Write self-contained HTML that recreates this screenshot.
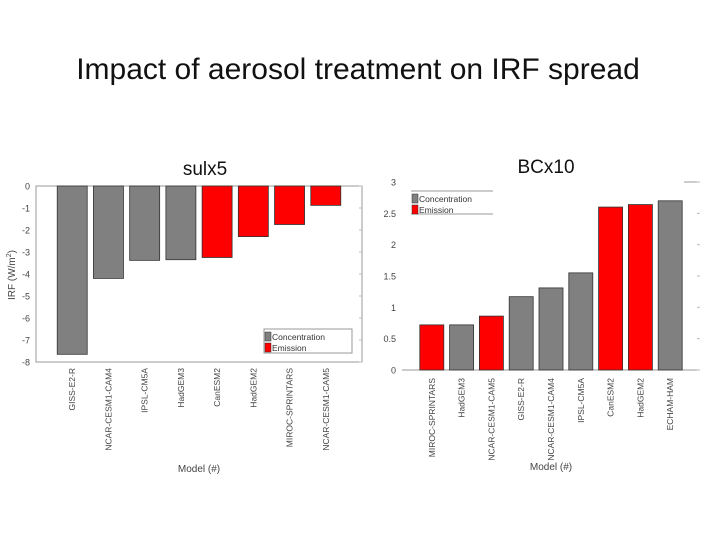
<!DOCTYPE html>
<html><head><meta charset="utf-8">
<style>
body{margin:0;background:#fff;}
svg{display:block;font-family:"Liberation Sans","DejaVu Sans",sans-serif;}
</style></head>
<body>
<svg id="svg" width="720" height="540">
<text x="358" y="79" font-size="30" text-anchor="middle" fill="#111">Impact of aerosol treatment on IRF spread</text>
<text x="205" y="175" font-size="19" text-anchor="middle" fill="#111">sulx5</text>
<text x="546" y="173" font-size="19" text-anchor="middle" fill="#111">BCx10</text>
<g id="left"></g>
<g id="right"></g>
</svg>
<script>
const leftCats=["GISS-E2-R","NCAR-CESM1-CAM4","IPSL-CM5A","HadGEM3","CanESM2","HadGEM2","MIROC-SPRINTARS","NCAR-CESM1-CAM5"];
const leftVals=[-7.65,-4.2,-3.38,-3.35,-3.25,-2.3,-1.75,-0.88];
const leftTypes=["c","c","c","c","e","e","e","e"];
const leftTicks=[0,-1,-2,-3,-4,-5,-6,-7,-8];
const rightCats=["MIROC-SPRINTARS","HadGEM3","NCAR-CESM1-CAM5","GISS-E2-R","NCAR-CESM1-CAM4","IPSL-CM5A","CanESM2","HadGEM2","ECHAM-HAM"];
const rightVals=[0.72,0.72,0.86,1.17,1.31,1.55,2.6,2.64,2.7];
const rightTypes=["e","c","e","c","c","c","e","e","c"];
const rightTicks=[0,0.5,1,1.5,2,2.5,3];
const NS="http://www.w3.org/2000/svg";
function mk(p,t,a){const e=document.createElementNS(NS,t);for(const k in a)e.setAttribute(k,a[k]);p.appendChild(e);return e;}
const COL={c:"#808080",e:"#ff0000"};

function draw(g,o){
  const y=v=>o.y0+(v-o.vmin)/(o.vmax-o.vmin)*(o.y1-o.y0);
  const step=(o.x1-o.x0)/(o.cats.length+1);
  const x=i=>o.x0+step*(i+1);
  const yb=Math.max(o.y0,o.y1), yt=Math.min(o.y0,o.y1);
  if(o.box){
    const r=mk(g,"rect",{x:o.x0,y:yt,width:o.x1-o.x0,height:yb-yt,fill:"none",stroke:"#999","stroke-width":1});
    
  }else{
    const l=mk(g,"line",{x1:o.x0,x2:o.x1,y1:yb,y2:yb,stroke:"#999"});
    
    const t=mk(g,"line",{x1:o.x1-16,x2:o.x1,y1:yt,y2:yt,stroke:"#999"});
    
  }
  o.ticks.forEach(v=>{
    const tl=mk(g,"text",{x:o.x0-6,y:y(v)+3.5,"font-size":9,"text-anchor":"end",fill:"#444"});
    tl.textContent=v;
    
    mk(g,"line",{x1:o.x1-3,x2:o.x1,y1:y(v),y2:y(v),stroke:"#bbb"});
  });
  o.cats.forEach((c,i)=>{
    const v=o.vals[i];
    const top=Math.min(y(0),y(v)),h=Math.abs(y(v)-y(0));
    const b=mk(g,"rect",{x:x(i)-o.bw/2,y:top,width:o.bw,height:h,fill:COL[o.types[i]],stroke:"#333","stroke-width":0.8});
    
    
    const t=mk(g,"text",{x:0,y:0,"font-size":8.5,"text-anchor":"end",fill:"#444",transform:`translate(${x(i)+3},${o.labY}) rotate(-90)`});
    t.textContent=c;
    
  });
  const xt=mk(g,"text",{x:(o.x0+o.x1)/2,y:o.xtY,"font-size":10,"text-anchor":"middle",fill:"#444"});
  xt.textContent="Model (#)";
  
  const L=o.leg;
  const lg=mk(g,"g",{});
  
  if(o.box) mk(lg,"rect",{x:L.x,y:L.y,width:L.w,height:L.h,fill:"#fff",stroke:"#999"});
  else{mk(lg,"line",{x1:L.x,x2:L.x+L.w,y1:L.y,y2:L.y,stroke:"#999"});mk(lg,"line",{x1:L.x,x2:L.x+L.w,y1:L.y+L.h,y2:L.y+L.h,stroke:"#999"});}
  [["Concentration","c"],["Emission","e"]].forEach((it,k)=>{
    const yy=L.y+3+k*11;
    mk(lg,"rect",{x:L.x+1,y:yy,width:6,height:9,fill:COL[it[1]],stroke:"#333","stroke-width":0.5});
    const t=mk(lg,"text",{x:L.x+8,y:yy+8,"font-size":8.5,fill:"#333"});
    t.textContent=it[0];
    
  });
}
draw(document.getElementById("left"),{cats:leftCats,vals:leftVals,types:leftTypes,ticks:leftTicks,vmin:0,vmax:-8,x0:36,x1:362,y0:186,y1:362,bw:30,box:true,labY:368,xtY:472,leg:{x:264,y:329,w:88,h:24}});
draw(document.getElementById("right"),{cats:rightCats,vals:rightVals,types:rightTypes,ticks:rightTicks,vmin:0,vmax:3,x0:402,x1:700,y0:370,y1:182,bw:24,box:false,labY:378,xtY:470,leg:{x:411,y:191,w:82,h:23}});
const yl=mk(document.getElementById("left"),"text",{x:0,y:0,"font-size":10,"text-anchor":"middle",fill:"#444",transform:"translate(15,275) rotate(-90)"});
yl.innerHTML='IRF (W/m<tspan dy="-4" font-size="7">2</tspan><tspan dy="4">)</tspan>';


</script>
</body></html>
